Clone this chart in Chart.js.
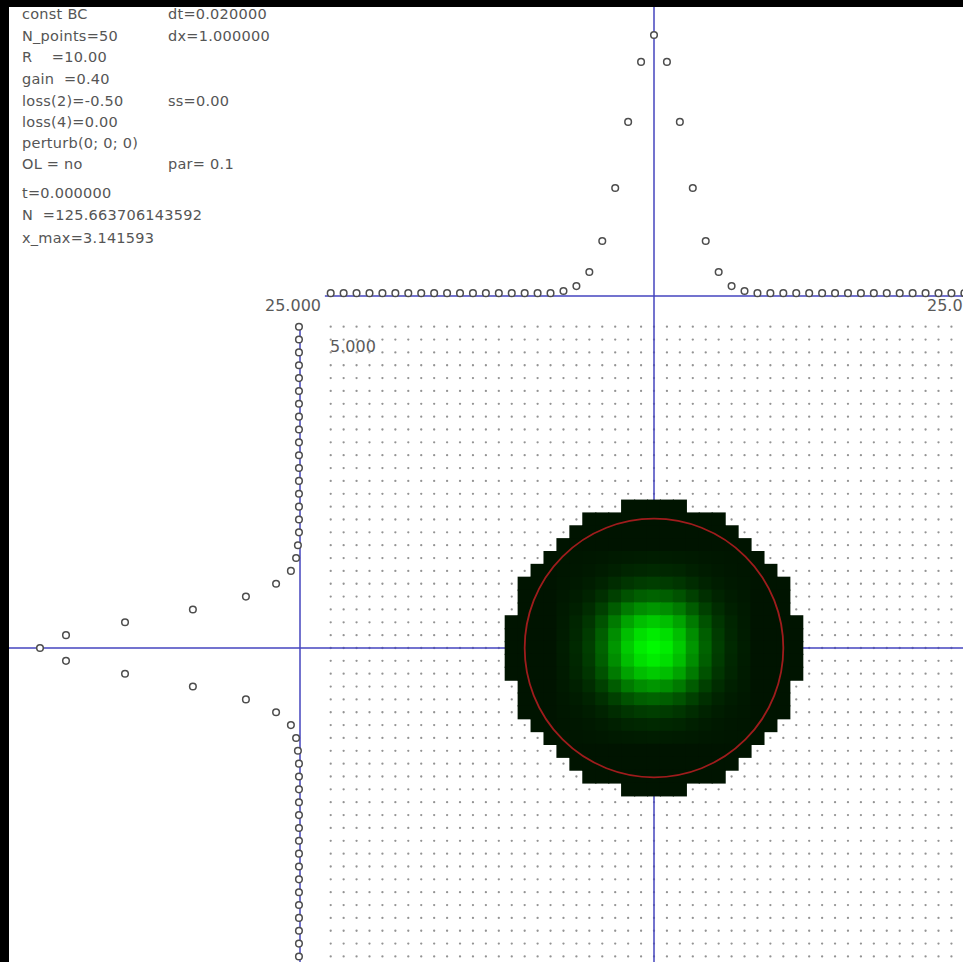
<!DOCTYPE html>
<html>
<head>
<meta charset="utf-8">
<script src="https://cdn.jsdelivr.net/npm/chart.js@4.4.1/dist/chart.umd.min.js"></script>
<style>
  html, body { margin: 0; padding: 0; width: 963px; height: 962px; overflow: hidden; background: #000; }
  #panel { position: absolute; left: 9px; top: 7px; width: 954px; height: 955px; background: #fff; z-index: 0; }
  .t { position: absolute; font-family: "DejaVu Sans", sans-serif; font-size: 14.5px; line-height: 17px;
       letter-spacing: 0.25px; color: #555; white-space: pre; z-index: 1; }
  .lab { position: absolute; font-family: "DejaVu Sans", sans-serif; font-size: 16px; line-height: 18px;
         color: #5a5a5a; white-space: pre; z-index: 1; }
  #plot { position: absolute; left: 9px; top: 7px; z-index: 2; }
</style>
</head>
<body>
<div id="panel"></div>

<!-- run parameters -->
<div class="t" style="left:22px;top:6px">const BC</div>
<div class="t" style="left:168px;top:6px">dt=0.020000</div>
<div class="t" style="left:22px;top:28px">N_points=50</div>
<div class="t" style="left:168px;top:28px">dx=1.000000</div>
<div class="t" style="left:22px;top:49px">R    =10.00</div>
<div class="t" style="left:22px;top:71px">gain  =0.40</div>
<div class="t" style="left:22px;top:93px">loss(2)=-0.50</div>
<div class="t" style="left:168px;top:93px">ss=0.00</div>
<div class="t" style="left:22px;top:114px">loss(4)=0.00</div>
<div class="t" style="left:22px;top:135px">perturb(0; 0; 0)</div>
<div class="t" style="left:22px;top:156px">OL = no</div>
<div class="t" style="left:168px;top:156px">par= 0.1</div>
<div class="t" style="left:22px;top:185px">t=0.000000</div>
<div class="t" style="left:22px;top:207px">N  =125.663706143592</div>
<div class="t" style="left:22px;top:230px">x_max=3.141593</div>

<!-- axis range labels -->
<div class="lab" style="left:265px;top:297px">25.000</div>
<div class="lab" style="left:927px;top:297px">25.000</div>
<div class="lab" style="left:330px;top:338px">5.000</div>

<canvas id="plot" width="954" height="955"></canvas>

<script>
// ---- lattice ----
const N_POINTS = 50;
const CENTER = 25;
const R = 10;

// cross-section along the centre row (drawn above the field), index 0..49
const rowProfile = [
  0.011, 0.011, 0.011, 0.011, 0.011, 0.011, 0.011, 0.011, 0.011, 0.011,
  0.011, 0.011, 0.011, 0.011, 0.011, 0.011, 0.011, 0.011, 0.019, 0.038,
  0.092, 0.211, 0.414, 0.667, 0.897, 1.000, 0.897, 0.667, 0.414, 0.211,
  0.092, 0.038, 0.019, 0.011, 0.011, 0.011, 0.011, 0.011, 0.011, 0.011,
  0.011, 0.011, 0.011, 0.011, 0.011, 0.011, 0.011, 0.011, 0.011, 0.011
];

// cross-section along the centre column (drawn left of the field), index 0..49
const colProfile = [
  0.004, 0.004, 0.004, 0.004, 0.004, 0.004, 0.004, 0.004, 0.004, 0.004,
  0.004, 0.004, 0.004, 0.004, 0.004, 0.004, 0.004, 0.008, 0.015, 0.035,
  0.092, 0.208, 0.412, 0.673, 0.900, 1.000, 0.900, 0.673, 0.412, 0.208,
  0.092, 0.035, 0.015, 0.008, 0.004, 0.004, 0.004, 0.004, 0.004, 0.004,
  0.004, 0.004, 0.004, 0.004, 0.004, 0.004, 0.004, 0.004, 0.004, 0.004
];

// occupied disk: half-width in cells for rows dy = -11 .. 11
const diskHalfWidth = [2, 5, 6, 7, 8, 9, 10, 10, 10, 11, 11, 11, 11, 11, 10, 10, 10, 9, 8, 7, 6, 5, 2];

// green level of the field, by |dy| (rows) and |dx| (columns), 0..7; the field is symmetric
const greenQuadrant = [
  [250, 236, 202, 150, 99, 62, 41, 29],
  [236, 222, 190, 141, 94, 59, 39, 28],
  [202, 190, 163, 122, 82, 53, 37, 27],
  [150, 141, 122,  92, 64, 44, 32, 26],
  [ 99,  94,  82,  64, 47, 35, 28, 24],
  [ 62,  59,  53,  44, 35, 29, 25, 23],
  [ 41,  39,  37,  32, 28, 25, 23, 22],
  [ 29,  28,  27,  26, 24, 23, 22, 22]
];
const DARK_LEVEL = 20;

// ---- screen layout (page pixels) ----
const CANVAS = { left: 9, top: 7, width: 954, height: 955 };
const GRID_X = { p0: 330.7, p1: 654 };   // lattice index 0 and CENTER
const GRID_Y = { p0: 326.7, p1: 648 };
const ROW_PLOT = { base: 296, peak: 35 };  // value 0 and 1 of the row profile
const COL_PLOT = { base: 300, peak: 40 };  // value 0 and 1 of the column profile

// choose min/max so that value v0 sits at pixel p0 and v1 at p1
function fitAxis(p0, v0, p1, v1, start, size, horizontal) {
  const b = (p1 - p0) / (v1 - v0);
  const a = p0 - b * v0;
  const vs = (start - a) / b, ve = (start + size - a) / b;
  if (horizontal) return vs < ve ? { min: vs, max: ve, reverse: false } : { min: ve, max: vs, reverse: true };
  return vs > ve ? { min: ve, max: vs, reverse: false } : { min: vs, max: ve, reverse: true };
}

const sx = fitAxis(GRID_X.p0, 0, GRID_X.p1, CENTER, CANVAS.left, CANVAS.width, true);
const sy = fitAxis(GRID_Y.p0, 0, GRID_Y.p1, CENTER, CANVAS.top, CANVAS.height, false);
const sTop = fitAxis(ROW_PLOT.base, 0, ROW_PLOT.peak, 1, CANVAS.top, CANVAS.height, false);
const sLeft = fitAxis(COL_PLOT.base, 0, COL_PLOT.peak, 1, CANVAS.left, CANVAS.width, true);

// ---- datasets ----
const latticeDots = [];
for (let j = 0; j < N_POINTS; j++)
  for (let i = 0; i < N_POINTS; i++) latticeDots.push({ x: i, y: j });

const fieldCells = [];
diskHalfWidth.forEach((hw, k) => {
  const dy = k - (diskHalfWidth.length - 1) / 2;
  for (let dx = -hw; dx <= hw; dx++) {
    const ax = Math.abs(dx), ay = Math.abs(dy);
    const g = (ax < greenQuadrant.length && ay < greenQuadrant.length) ? greenQuadrant[ay][ax] : DARK_LEVEL;
    fieldCells.push({ x: CENTER + dx, y: CENTER + dy, g });
  }
});

const rowPoints = rowProfile.map((v, i) => ({ x: i, y: v }));
const colPoints = colProfile.map((v, j) => ({ x: v, y: j }));

function cellPx(chart) {
  const xs = chart.scales.x, ys = chart.scales.y;
  return {
    w: Math.abs(xs.getPixelForValue(1) - xs.getPixelForValue(0)),
    h: Math.abs(ys.getPixelForValue(1) - ys.getPixelForValue(0))
  };
}

const AXIS_BLUE = '#4545bf';
const MARKER = { pointStyle: 'circle', pointRadius: 3.3, pointBorderWidth: 1.5,
                 pointBorderColor: '#4d4d4d', pointBackgroundColor: '#ffffff', showLine: false };

new Chart(document.getElementById('plot'), {
  type: 'scatter',
  data: {
    datasets: [
      { label: 'row profile', data: rowPoints, xAxisID: 'x', yAxisID: 'yTop', order: 0, ...MARKER },
      { label: 'column profile', data: colPoints, xAxisID: 'xLeft', yAxisID: 'y', order: 0, ...MARKER },
      { label: 'row axis', data: [{ x: -0.45, y: 0 }, { x: 60, y: 0 }], xAxisID: 'x', yAxisID: 'yTop',
        showLine: true, pointRadius: 0, borderColor: AXIS_BLUE, borderWidth: 1.5, order: 1 },
      { label: 'column axis', data: [{ x: 0, y: 0 }, { x: 0, y: 60 }], xAxisID: 'xLeft', yAxisID: 'y',
        showLine: true, pointRadius: 0, borderColor: AXIS_BLUE, borderWidth: 1.5, order: 1 },
      { label: 'R', data: [{ x: CENTER, y: CENTER }], xAxisID: 'x', yAxisID: 'y', order: 2,
        pointStyle: 'circle', pointRadius: c => R * cellPx(c.chart).w,
        pointBackgroundColor: 'rgba(0,0,0,0)', pointBorderColor: '#9e1c1c', pointBorderWidth: 1.8 },
      { label: 'field', data: fieldCells, xAxisID: 'x', yAxisID: 'y', order: 3,
        pointStyle: 'rect', pointBorderWidth: 0,
        pointRadius: c => { const s = cellPx(c.chart); return (Math.max(s.w, s.h) + 1.2) / Math.SQRT2; },
        pointBackgroundColor: c => `rgb(0,${c.raw.g},0)` },
      { label: 'centre column', data: [{ x: CENTER, y: -40 }, { x: CENTER, y: 60 }], xAxisID: 'x', yAxisID: 'y',
        showLine: true, pointRadius: 0, borderColor: AXIS_BLUE, borderWidth: 1.5, order: 4 },
      { label: 'centre row', data: [{ x: -40, y: CENTER }, { x: 60, y: CENTER }], xAxisID: 'x', yAxisID: 'y',
        showLine: true, pointRadius: 0, borderColor: AXIS_BLUE, borderWidth: 1.5, order: 4 },
      { label: 'lattice', data: latticeDots, xAxisID: 'x', yAxisID: 'y', order: 5,
        pointStyle: 'circle', pointRadius: 1.15, pointBorderWidth: 0, pointBackgroundColor: '#939393' }
    ]
  },
  options: {
    responsive: false,
    animation: false,
    events: [],
    layout: { padding: 0, autoPadding: false },
    plugins: { legend: { display: false }, tooltip: { enabled: false }, title: { display: false } },
    scales: {
      x:     { type: 'linear', axis: 'x', display: false, ...sx },
      y:     { type: 'linear', axis: 'y', display: false, ...sy },
      yTop:  { type: 'linear', axis: 'y', display: false, ...sTop },
      xLeft: { type: 'linear', axis: 'x', display: false, ...sLeft }
    }
  }
});
</script>
</body>
</html>
